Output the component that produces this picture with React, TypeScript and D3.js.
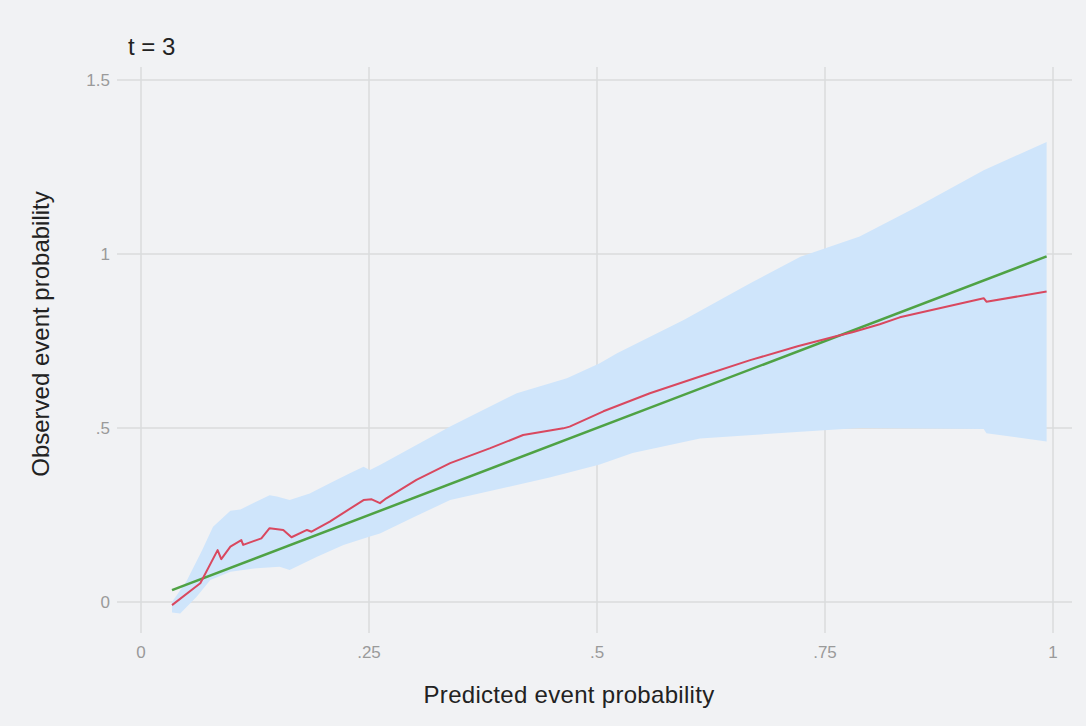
import React from "react";
import * as d3 from "d3";

const title = "t = 3";
const xTicks = [0, 0.25, 0.5, 0.75, 1];
const xTickLabels = ["0", ".25", ".5", ".75", "1"];
const yTicks = [0, 0.5, 1, 1.5];
const yTickLabels = ["0", ".5", "1", "1.5"];

// Reference (perfect calibration) line
const refX = [0.034, 0.993];
const refY = [0.034, 0.993];

// Observed calibration curve
const obsX = [0.034, 0.065, 0.084, 0.088, 0.098, 0.110, 0.112, 0.132, 0.141, 0.156, 0.165, 0.182, 0.187, 0.207, 0.244, 0.253, 0.262, 0.269, 0.302, 0.339, 0.383, 0.419, 0.463, 0.470, 0.507, 0.558, 0.613, 0.668, 0.720, 0.760, 0.780, 0.810, 0.832, 0.924, 0.927, 0.993];
const obsY = [-0.009, 0.054, 0.149, 0.123, 0.159, 0.178, 0.164, 0.183, 0.212, 0.207, 0.186, 0.207, 0.202, 0.231, 0.293, 0.295, 0.284, 0.298, 0.351, 0.399, 0.442, 0.480, 0.499, 0.504, 0.548, 0.600, 0.648, 0.695, 0.735, 0.762, 0.775, 0.798, 0.818, 0.873, 0.863, 0.892];

// Confidence band, upper edge
const hiX = [0.034, 0.050, 0.067, 0.079, 0.098, 0.109, 0.141, 0.149, 0.163, 0.185, 0.207, 0.229, 0.244, 0.251, 0.262, 0.339, 0.412, 0.467, 0.503, 0.522, 0.595, 0.668, 0.723, 0.788, 0.851, 0.924, 0.993];
const hiY = [0.000, 0.060, 0.149, 0.216, 0.262, 0.266, 0.307, 0.303, 0.293, 0.312, 0.341, 0.370, 0.389, 0.379, 0.394, 0.504, 0.600, 0.643, 0.686, 0.715, 0.810, 0.916, 0.992, 1.050, 1.136, 1.241, 1.322];

// Confidence band, lower edge
const loX = [0.034, 0.043, 0.061, 0.076, 0.098, 0.127, 0.152, 0.163, 0.193, 0.222, 0.251, 0.262, 0.300, 0.339, 0.448, 0.503, 0.539, 0.613, 0.723, 0.788, 0.924, 0.927, 0.993];
const loY = [-0.030, -0.033, 0.015, 0.063, 0.087, 0.097, 0.101, 0.092, 0.130, 0.164, 0.188, 0.197, 0.245, 0.293, 0.358, 0.395, 0.428, 0.470, 0.489, 0.500, 0.497, 0.485, 0.461];

const W = 1086;
const H = 726;

export default function App() {
  const x = d3.scaleLinear().domain([0, 1]).range([141, 1053]);
  const y = d3.scaleLinear().domain([0, 1.5]).range([602, 80]);

  const line = d3
    .line<[number, number]>()
    .x((d) => x(d[0]))
    .y((d) => y(d[1]));

  const obsPts: [number, number][] = obsX.map((v, i) => [v, obsY[i]]);
  const refPts: [number, number][] = refX.map((v, i) => [v, refY[i]]);
  const hiPts: [number, number][] = hiX.map((v, i) => [v, hiY[i]]);
  const loPts: [number, number][] = loX.map((v, i) => [v, loY[i]]).reverse() as [number, number][];
  const bandPath = line([...hiPts, ...loPts]) + "Z";

  const gridColor = "#dadbdd";
  const tickColor = "#9a9a9a";
  const font = "'Liberation Sans', Arial, Helvetica, sans-serif";

  return (
    <svg
      width={W}
      height={H}
      style={{ position: "absolute", left: 0, top: 0, display: "block" }}
      fontFamily={font}
    >
      <rect x={0} y={0} width={W} height={H} fill="#f1f2f4" />
      {/* grid */}
      {yTicks.map((t) => (
        <line key={"gy" + t} x1={117} x2={1072} y1={y(t)} y2={y(t)} stroke={gridColor} strokeWidth={1.5} />
      ))}
      {xTicks.map((t) => (
        <line key={"gx" + t} x1={x(t)} x2={x(t)} y1={67} y2={633} stroke={gridColor} strokeWidth={1.5} />
      ))}
      {/* band */}
      <path d={bandPath} fill="#cfe5fb" stroke="none" />
      {/* lines */}
      <path d={line(refPts) || ""} fill="none" stroke="#4fa244" strokeWidth={2.5} />
      <path d={line(obsPts) || ""} fill="none" stroke="#d9485f" strokeWidth={2} strokeLinejoin="round" />
      {/* tick labels */}
      {yTicks.map((t, i) => (
        <text key={"ly" + t} x={110} y={y(t)} dy="0.35em" textAnchor="end" fontSize={17} fill={tickColor}>
          {yTickLabels[i]}
        </text>
      ))}
      {xTicks.map((t, i) => (
        <text key={"lx" + t} x={x(t)} y={652} dy="0.35em" textAnchor="middle" fontSize={17} fill={tickColor}>
          {xTickLabels[i]}
        </text>
      ))}
      {/* axis titles */}
      <text x={569} y={703} textAnchor="middle" fontSize={24} letterSpacing={0.3} fill="#222">
        Predicted event probability
      </text>
      <text
        transform={`translate(41,334) rotate(-90)`}
        dy="0.35em"
        textAnchor="middle"
        fontSize={24}
        fill="#222"
      >
        Observed event probability
      </text>
      <text x={128} y={47} dy="0.35em" fontSize={24} fill="#222">
        {title}
      </text>
    </svg>
  );
}
